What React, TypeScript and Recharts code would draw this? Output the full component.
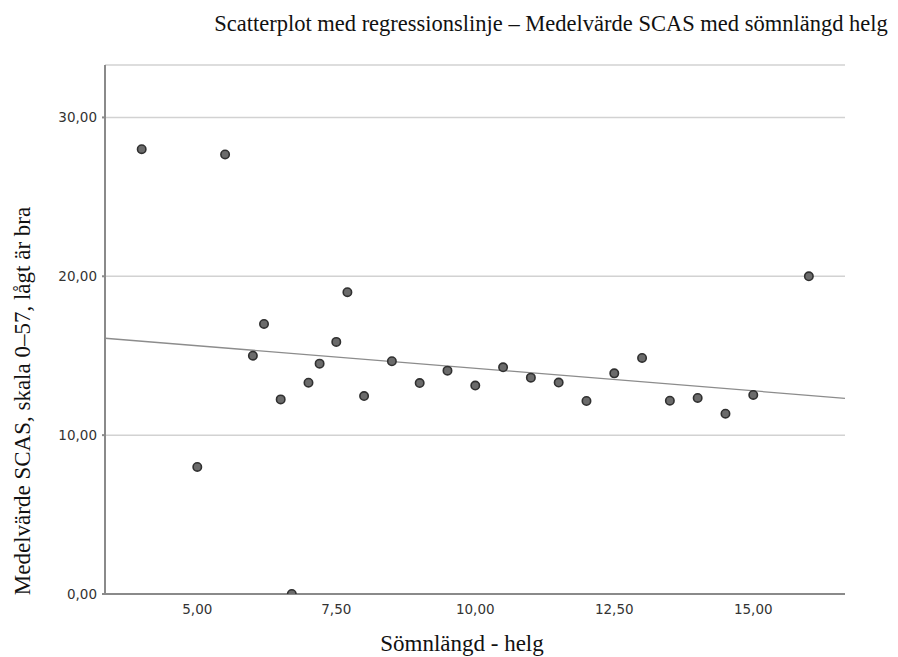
import React from 'react';
import {
  ScatterChart,
  Scatter,
  XAxis,
  YAxis,
  CartesianGrid,
  ReferenceLine
} from 'recharts';

// sleep length at weekend (hours)
const sleepHours = [4, 5, 5.5, 6, 6.2, 6.5, 6.7, 7, 7.2, 7.5, 7.7, 8, 8.5, 9, 9.5, 10, 10.5, 11, 11.5, 12, 12.5, 13, 13.5, 14, 14.5, 15, 16];
// mean SCAS score
const scasMean = [28, 8, 27.67, 15, 17, 12.25, 0, 13.3, 14.5, 15.87, 19, 12.46, 14.65, 13.28, 14.06, 13.12, 14.27, 13.62, 13.31, 12.15, 13.89, 14.86, 12.17, 12.34, 11.35, 12.53, 20];

const xTicks = [5, 7.5, 10, 12.5, 15];
const yTicks = [0, 10, 20, 30];
const xDomain = [3.34, 16.65];
const yDomain = [0, 33.3];

// fitted line, read at both ends of the x range
const regX = [3.34, 16.65];
const regY = [16.1, 12.32];

const points = sleepHours.map((x, i) => ({ x, y: scasMean[i] }));
const fmt = (v: number) => v.toFixed(2).replace('.', ',');

const tickStyle = { fontFamily: 'DejaVu Sans', fontSize: 13.5, fill: '#333' };
const serif = '"Liberation Serif", "Times New Roman", serif';

const Dot = (props: any) => (
  <circle cx={props.cx} cy={props.cy} r={4.2} fill="#6b6b6b" stroke="#303030" strokeWidth={1.6} />
);

export default function App() {
  return (
    <div style={{ position: 'absolute', left: 0, top: 0, width: 898, height: 657, background: '#fff' }}>
      <ScatterChart width={898} height={657} margin={{ top: 65, right: 53, bottom: 33, left: 45 }}>
        <CartesianGrid vertical={false} stroke="#d2d2d2" strokeWidth={1.5} />
        <XAxis
          type="number"
          dataKey="x"
          domain={xDomain}
          ticks={xTicks}
          tickFormatter={fmt}
          allowDataOverflow
          height={30}
          tickLine={false}
          tickMargin={4}
          tick={tickStyle}
          stroke="#8a8a8a"
          strokeWidth={2}
        />
        <YAxis
          type="number"
          dataKey="y"
          domain={yDomain}
          ticks={yTicks}
          tickFormatter={fmt}
          allowDataOverflow
          width={60}
          tickSize={3}
          tickMargin={5}
          tick={tickStyle}
          stroke="#8a8a8a"
          strokeWidth={2}
        />
        <ReferenceLine
          segment={[{ x: regX[0], y: regY[0] }, { x: regX[1], y: regY[1] }]}
          stroke="#8c8c8c"
          strokeWidth={1.3}
        />
        <Scatter data={points} shape={Dot} isAnimationActive={false} />
      </ScatterChart>
      <svg width={898} height={657} style={{ position: 'absolute', left: 0, top: 0, pointerEvents: 'none' }}>
        <text x={551} y={31} textAnchor="middle" fontFamily={serif} fontSize={22.5} fill="#111">
          Scatterplot med regressionslinje – Medelvärde SCAS med sömnlängd helg
        </text>
        <text x={462} y={651} textAnchor="middle" fontFamily={serif} fontSize={23} fill="#111">
          Sömnlängd - helg
        </text>
        <text
          x={22}
          y={401}
          transform="rotate(-90 22 401)"
          textAnchor="middle"
          dominantBaseline="central"
          fontFamily={serif}
          fontSize={23}
          fill="#111"
        >
          Medelvärde SCAS, skala 0–57, lågt är bra
        </text>
      </svg>
    </div>
  );
}
